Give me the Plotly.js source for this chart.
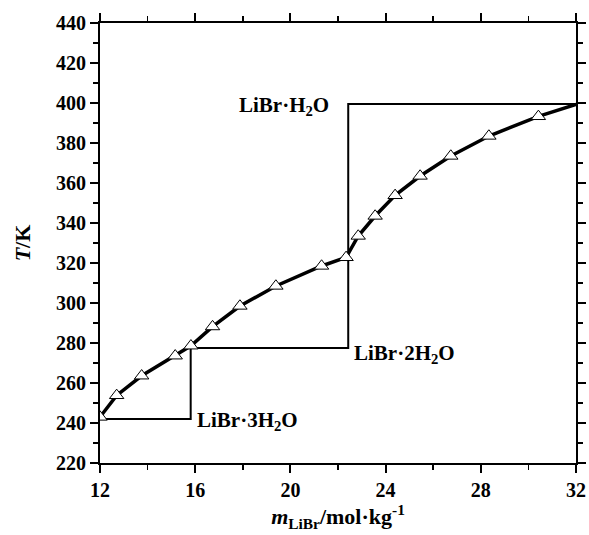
<!DOCTYPE html>
<html>
<head>
<meta charset="utf-8">
<script src="https://cdn.plot.ly/plotly-3.0.1.min.js"></script>
<style>html,body{margin:0;padding:0;background:#fff;}#chart{width:589px;height:535px;}</style>
</head>
<body>
<div id="chart"></div>
<script>
// Solubility curve of LiBr in water
var mData = [12, 12.70, 13.75, 15.16, 15.82, 16.73, 17.88, 19.39, 21.31, 22.34, 22.85, 23.56, 24.40, 25.45, 26.74, 28.34, 30.42, 32];
var TData = [243, 253.8, 263.6, 273.6, 278.6, 288.2, 298.5, 308.5, 318.5, 322.8, 333.5, 343.5, 353.8, 363.5, 373.5, 383.5, 393.3, 399.3];
// Hydrate phase boundaries
var stepM = [12, 15.81, 15.81, 22.43, 22.43, 32];
var stepT = [242, 242, 277.5, 277.5, 399.5, 399.5];
// Labels
var labelText = ['LiBr·H<sub>2</sub>O', 'LiBr·3H<sub>2</sub>O', 'LiBr·2H<sub>2</sub>O'];
var labelM = [19.73, 18.2, 24.8];
var labelT = [398.5, 240.8, 274.3];
var xTicks = [12, 16, 20, 24, 28, 32];
var yTicks = [220, 240, 260, 280, 300, 320, 340, 360, 380, 400, 420, 440];

var fontFam = '"Liberation Serif", "Times New Roman", serif';

var traces = [
  {x: stepM, y: stepT, mode: 'lines', line: {color: '#000', width: 2}, hoverinfo: 'none'},
  {x: mData, y: TData, mode: 'lines', line: {color: '#000', width: 3.5}, hoverinfo: 'none'},
  {x: mData.slice(0, mData.length - 1), y: TData.slice(0, TData.length - 1), mode: 'markers',
   marker: {symbol: 'triangle-up', size: 12.5, color: '#fff', line: {color: '#000', width: 1}}, hoverinfo: 'none'}
];

var annotations = labelText.map(function (t, i) {
  return {x: labelM[i], y: labelT[i], xref: 'x', yref: 'y', text: '<b>' + t + '</b>', showarrow: false,
          xanchor: 'center', yanchor: 'middle', font: {family: fontFam, size: 21, color: '#000'}};
});

var axisCommon = {
  showgrid: false, zeroline: false, showline: true, linecolor: '#000', linewidth: 2,
  mirror: 'ticks', ticks: 'outside', ticklen: 8, tickwidth: 2, tickcolor: '#000',
  tickfont: {family: fontFam, size: 20, color: '#000', weight: 'bold'}
};

var layout = {
  width: 589, height: 535,
  margin: {l: 100, r: 13, t: 23, b: 72},
  paper_bgcolor: '#fff', plot_bgcolor: '#fff',
  showlegend: false,
  xaxis: Object.assign({}, axisCommon, {
    range: [12, 32], tickvals: xTicks, ticktext: xTicks.map(String),
    minor: {dtick: 2, tick0: 12, ticks: 'outside', ticklen: 5, tickwidth: 1.5, tickcolor: '#000'},
    title: {text: '<b><i>m</i><sub>LiBr</sub>/mol·kg<sup>-1</sup></b>', standoff: 8,
            font: {family: fontFam, size: 22, color: '#000'}}
  }),
  yaxis: Object.assign({}, axisCommon, {
    range: [220, 440], tickvals: yTicks, ticktext: yTicks.map(String),
    minor: {dtick: 10, tick0: 220, ticks: 'outside', ticklen: 5, tickwidth: 1.5, tickcolor: '#000'},
    title: {text: '<b><i>T</i>/K</b>', standoff: 19, font: {family: fontFam, size: 22, color: '#000'}}
  }),
  annotations: annotations
};

Plotly.newPlot('chart', traces, layout, {displayModeBar: false, staticPlot: true});
</script>
</body>
</html>
